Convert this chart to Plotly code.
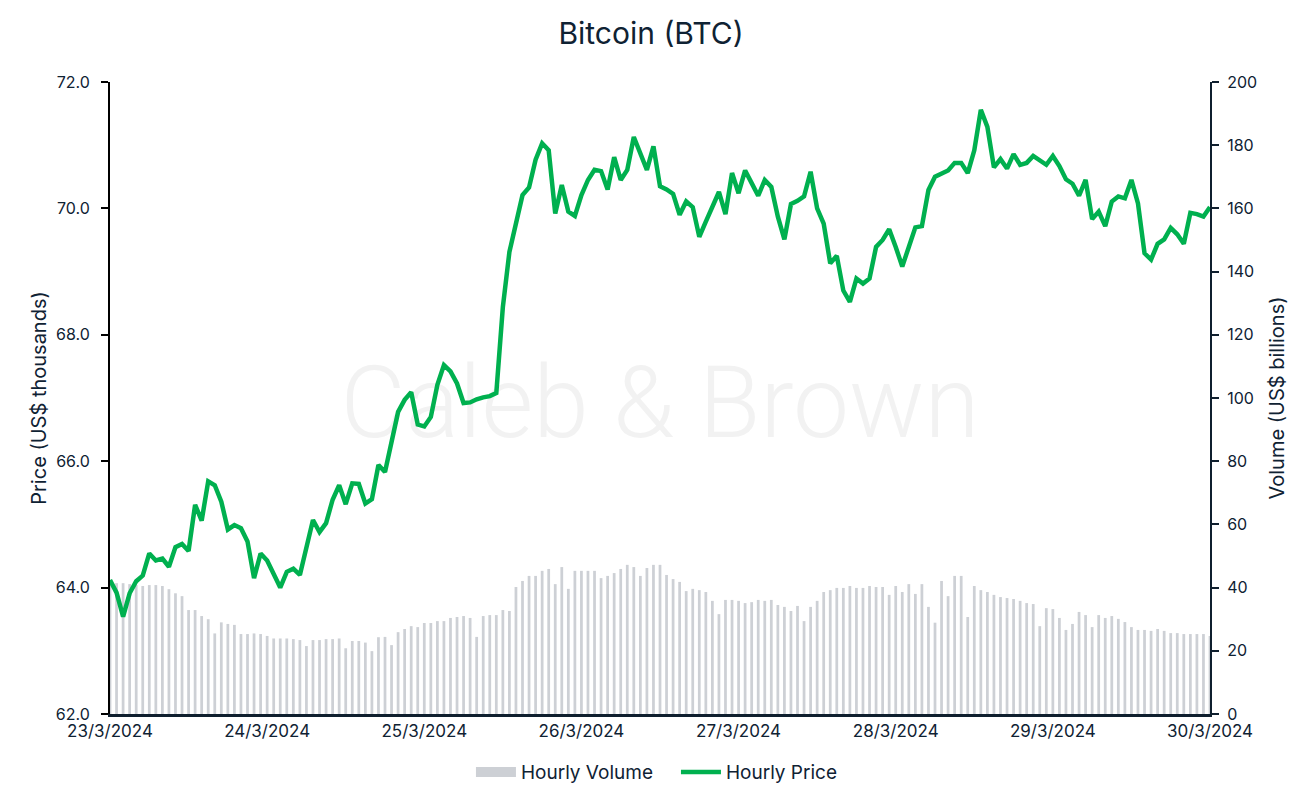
import pandas as pd
import plotly.graph_objects as go

start_time = "2024-03-23 00:00"
n_hours = 169

price = [
    64.12, 63.92, 63.54, 63.91, 64.10, 64.19, 64.54, 64.43, 64.46, 64.33,
    64.64, 64.69, 64.58, 65.31, 65.06, 65.68, 65.62, 65.36, 64.92, 64.99,
    64.94, 64.73, 64.15, 64.54, 64.43, 64.22, 64.00, 64.25, 64.30, 64.20,
    64.65, 65.07, 64.88, 65.02, 65.39, 65.62, 65.32, 65.65, 65.64, 65.33,
    65.40, 65.94, 65.83, 66.34, 66.78, 66.97, 67.09, 66.58, 66.55, 66.70,
    67.21, 67.52, 67.42, 67.23, 66.92, 66.93, 66.98, 67.01, 67.03, 67.08,
    68.44, 69.31, 69.79, 70.21, 70.33, 70.77, 71.03, 70.92, 69.92, 70.37,
    69.95, 69.88, 70.21, 70.45, 70.61, 70.59, 70.30, 70.81, 70.45, 70.61,
    71.13, 70.87, 70.61, 70.98, 70.35, 70.30, 70.23, 69.90, 70.11, 70.02,
    69.55, 69.79, 70.03, 70.26, 69.91, 70.56, 70.24, 70.60, 70.40, 70.20,
    70.45, 70.34, 69.87, 69.51, 70.07, 70.12, 70.19, 70.58, 70.00, 69.76,
    69.13, 69.25, 68.70, 68.52, 68.89, 68.81, 68.89, 69.39, 69.50, 69.67,
    69.39, 69.08, 69.39, 69.70, 69.72, 70.29, 70.50, 70.55, 70.60, 70.72,
    70.72, 70.56, 70.92, 71.56, 71.29, 70.65, 70.78, 70.63, 70.86, 70.69,
    70.72, 70.83, 70.77, 70.69, 70.83, 70.67, 70.46, 70.39, 70.20, 70.45,
    69.83, 69.95, 69.72, 70.11, 70.19, 70.16, 70.45, 70.08, 69.29, 69.19,
    69.44, 69.51, 69.69, 69.59, 69.44, 69.93, 69.91, 69.87, 70.02,
]

volume = [
    41.4, 41.4, 41.4, 41.1, 40.8, 40.5, 40.8, 40.8, 40.5, 39.5,
    38.2, 37.3, 32.9, 32.9, 31.0, 30.0, 25.5, 29.0, 28.5, 28.2,
    25.3, 25.3, 25.5, 25.3, 24.7, 23.9, 23.9, 23.9, 23.7, 23.4,
    21.5, 23.4, 23.4, 23.7, 23.7, 23.9, 20.8, 23.1, 23.1, 22.6,
    19.9, 24.3, 24.4, 21.8, 25.9, 26.9, 27.8, 27.5, 28.8, 28.8,
    29.4, 29.4, 30.4, 30.7, 31.0, 30.4, 24.4, 31.0, 31.3, 31.3,
    32.9, 32.6, 40.2, 42.1, 43.7, 43.7, 45.3, 45.9, 41.1, 46.5,
    39.6, 45.3, 45.3, 45.3, 45.3, 43.0, 43.7, 44.6, 45.9, 47.2,
    46.5, 43.7, 46.2, 47.2, 47.2, 44.0, 42.7, 41.8, 38.9, 39.6,
    39.2, 38.6, 35.8, 31.6, 36.1, 36.1, 35.8, 35.1, 35.4, 36.1,
    35.8, 36.1, 34.5, 33.9, 32.6, 34.2, 29.4, 33.9, 35.8, 38.6,
    39.2, 39.9, 39.9, 40.5, 39.9, 39.9, 40.5, 40.2, 40.2, 37.7,
    40.5, 38.6, 41.1, 38.0, 41.1, 33.9, 28.9, 42.1, 37.3, 43.7,
    43.7, 30.7, 40.5, 39.2, 38.6, 37.7, 37.0, 36.7, 36.4, 35.8,
    35.1, 34.8, 27.8, 33.5, 33.2, 30.4, 26.6, 28.5, 32.3, 31.3,
    27.5, 31.3, 30.4, 31.0, 30.1, 29.1, 27.5, 26.6, 26.6, 26.3,
    26.9, 26.3, 25.6, 25.6, 25.3, 25.3, 25.3, 25.3, 24.7,
]

day_ticks = ["2024-03-23", "2024-03-24", "2024-03-25", "2024-03-26",
             "2024-03-27", "2024-03-28", "2024-03-29", "2024-03-30"]
day_labels = ["23/3/2024", "24/3/2024", "25/3/2024", "26/3/2024",
              "27/3/2024", "28/3/2024", "29/3/2024", "30/3/2024"]

times = pd.date_range(start_time, periods=n_hours, freq="h")

TEXT = "#0f2233"
GREEN = "#00b04f"
GREY = "#cdd0d5"
FONT = "Inter"

fig = go.Figure()

# watermark (drawn first so it sits underneath)
fig.add_trace(go.Scatter(
    x=[pd.Timestamp("2024-03-26 12:00")], y=[95.5], mode="text",
    text=["Caleb & Brown"],
    textfont=dict(family="Roboto", size=100, color="#f2f2f2", weight=300),
    textposition="middle center", showlegend=False, hoverinfo="skip",
    yaxis="y",
))

fig.add_trace(go.Bar(
    x=times, y=volume, name="Hourly Volume", marker_color=GREY,
    marker_line_width=0, yaxis="y", showlegend=False,
))

# legend entry for volume drawn as a wide grey band
fig.add_trace(go.Scatter(
    x=[None], y=[None], name="Hourly Volume", mode="lines",
    line=dict(color=GREY, width=12), yaxis="y", hoverinfo="skip",
))

fig.add_trace(go.Scatter(
    x=times, y=price, name="Hourly Price", mode="lines",
    line=dict(color=GREEN, width=4.5), yaxis="y2",
))

fig.update_layout(
    width=1286, height=786,
    paper_bgcolor="white", plot_bgcolor="white",
    margin=dict(l=102, r=84, t=74, b=80, autoexpand=False),
    font=dict(family=FONT, color=TEXT, size=16),
    title=dict(text="Bitcoin (BTC)", x=0.5, xanchor="center", y=0.968, yanchor="middle",
               font=dict(family=FONT, size=30, color=TEXT)),
    bargap=0.58,
    showlegend=True,
    legend=dict(orientation="h", x=0.5145, xanchor="center", y=-0.092, yanchor="middle",
                font=dict(family=FONT, size=19, color=TEXT), traceorder="normal",
                itemwidth=40, entrywidth=150),
    xaxis=dict(
        type="date", automargin=False,
        range=[day_ticks[0], day_ticks[-1]],
        tickvals=day_ticks, ticktext=day_labels,
        showgrid=False, zeroline=False,
        showline=True, linecolor="#0f1f2e", linewidth=3,
        ticks="", tickfont=dict(size=17, color=TEXT),
    ),
    yaxis=dict(
        side="right", range=[0, 200], dtick=20, tick0=0, automargin=False,
        showgrid=False, zeroline=False,
        showline=True, linecolor="#0f1f2e", linewidth=2,
        ticks="outside", ticklen=7, tickwidth=2, tickcolor="#0f1f2e",
        tickfont=dict(size=16, color=TEXT), ticklabelstandoff=5,
        title=dict(text="Volume (US$ billions)", font=dict(size=20, color=TEXT), standoff=14),
    ),
    yaxis2=dict(
        side="left", overlaying="y", range=[62, 72], dtick=2, tick0=62, automargin=False,
        tickformat=".1f",
        showgrid=False, zeroline=False,
        showline=True, linecolor="#000000", linewidth=2,
        ticks="outside", ticklen=7, tickwidth=2, tickcolor="#000000",
        tickfont=dict(size=16, color=TEXT), ticklabelstandoff=8,
        title=dict(text="Price (US$ thousands)", font=dict(size=20, color=TEXT), standoff=4),
    ),
)

fig.write_html("out.html")
